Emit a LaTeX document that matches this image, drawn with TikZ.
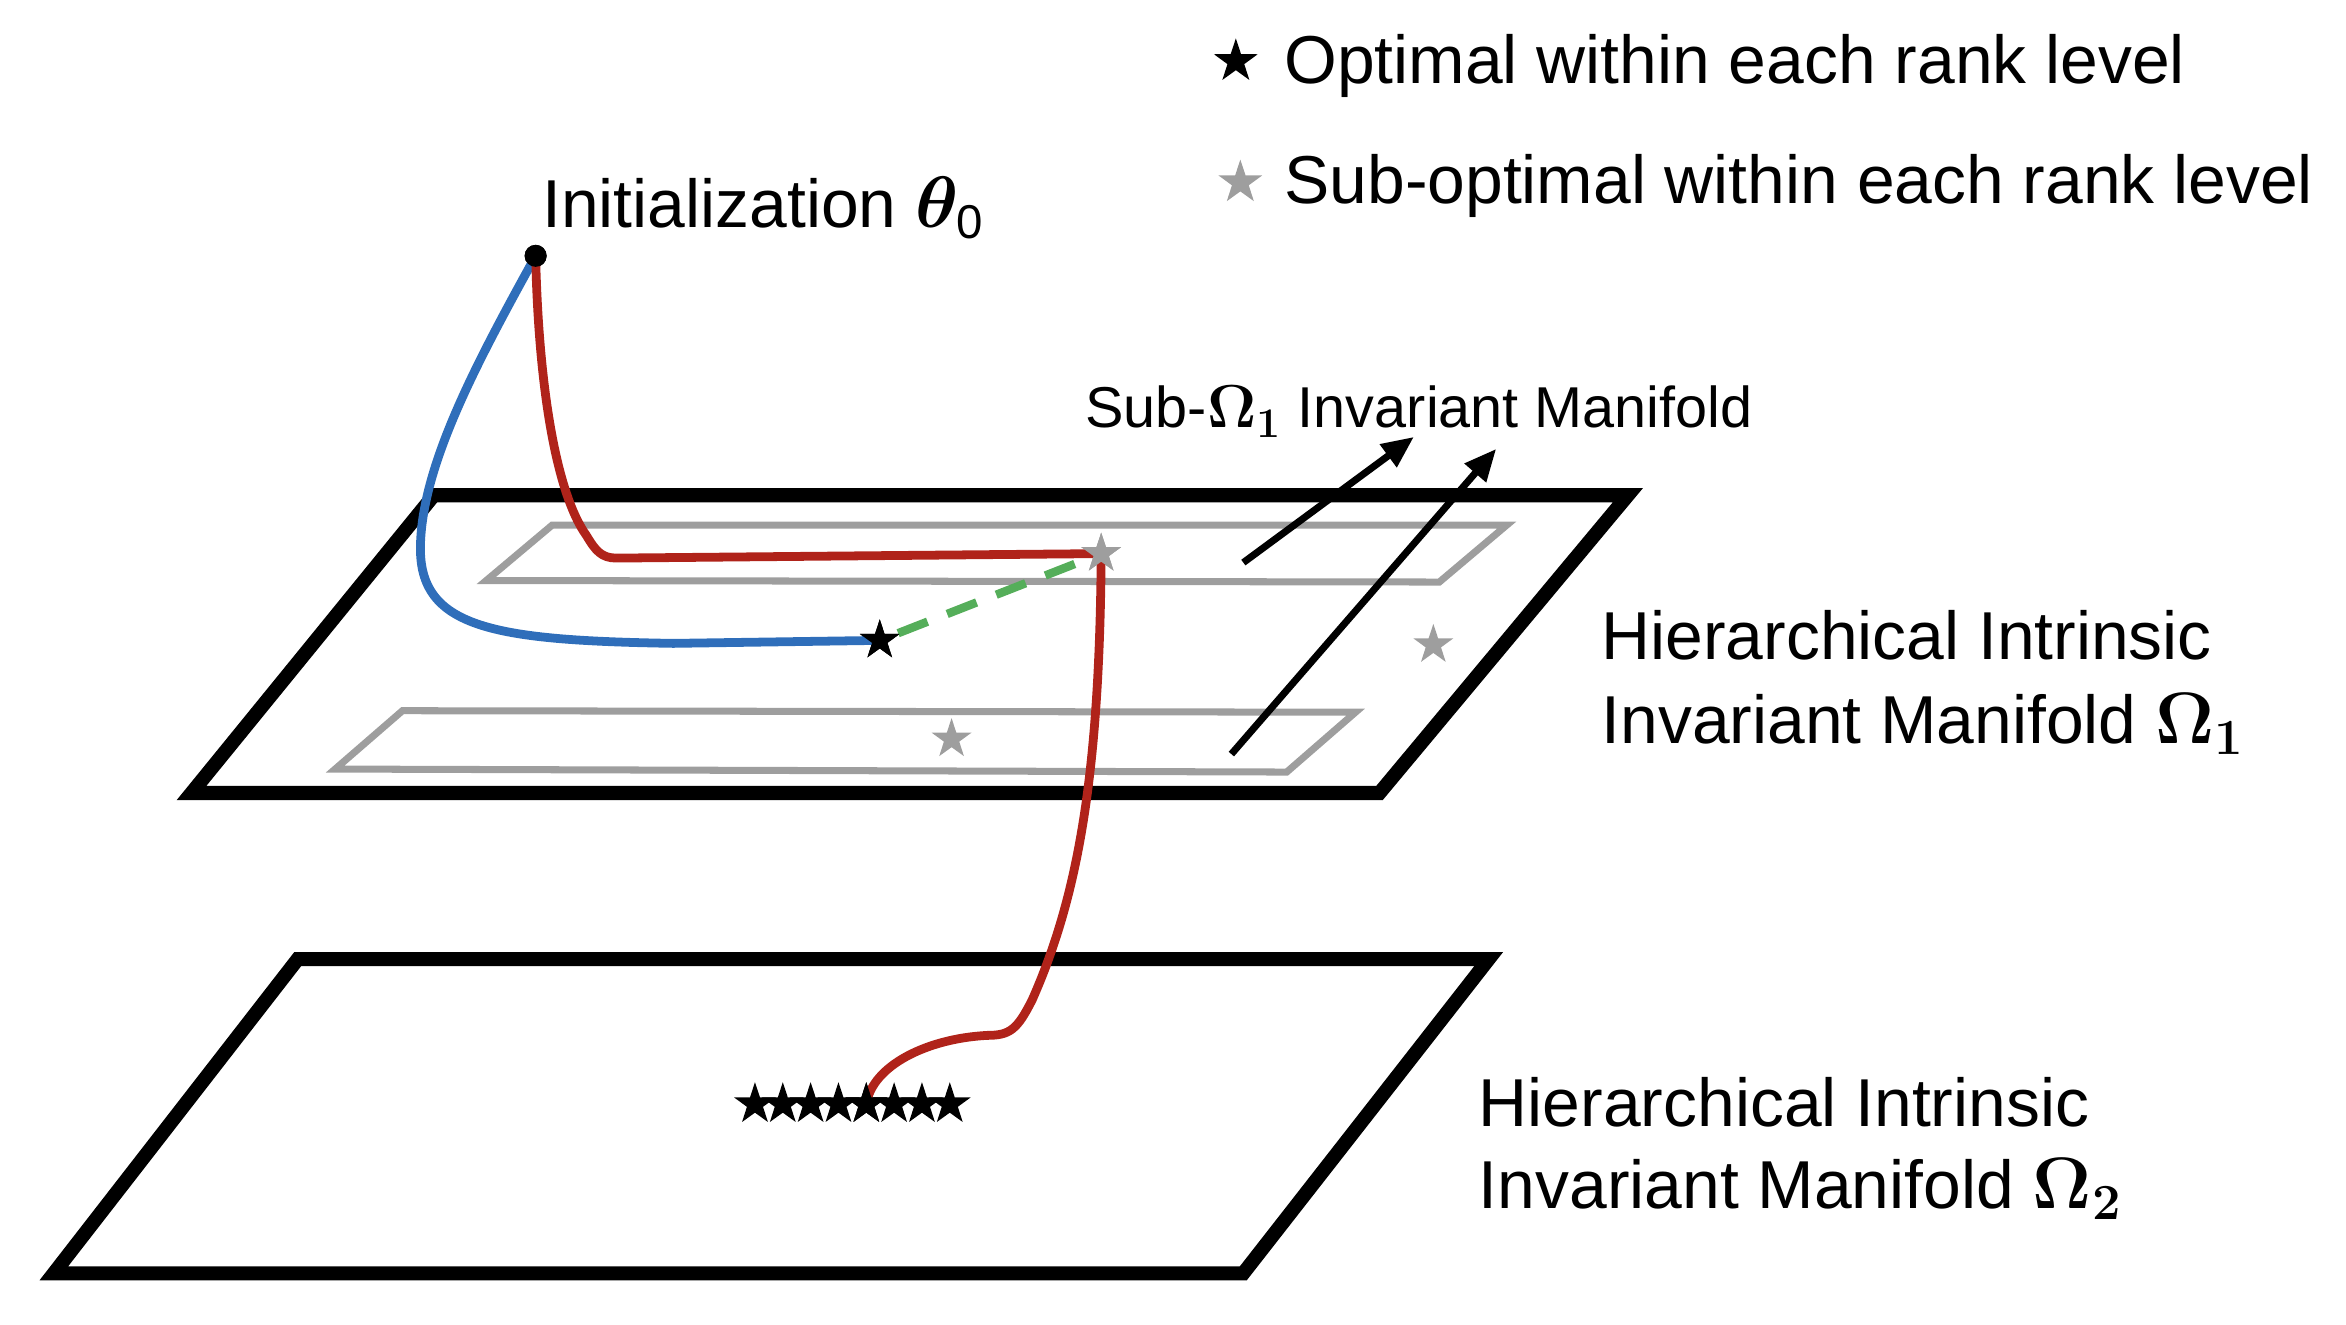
\documentclass[tikz,border=0pt]{standalone}
\usepackage{amsmath,bm}
\usepackage{fontspec}
\setmainfont{Liberation Sans}
\usetikzlibrary{shapes.geometric,arrows.meta}
\definecolor{myblue}{HTML}{2F6EBA}
\definecolor{myred}{HTML}{B0231A}
\definecolor{mygreen}{HTML}{55AE5A}
\definecolor{mygray}{HTML}{9E9E9E}
\begin{document}
\begin{tikzpicture}[x=0.014962cm,y=-0.014962cm,
  plane/.style={line width=4pt, line join=miter},
  subrect/.style={mygray, line width=2pt, line join=miter},
  traj/.style={line width=2.5pt, line cap=round, line join=round},
  mstar/.style={star, star points=5, star point ratio=2.6, inner sep=0pt, minimum size=0.44cm, fill, draw=none},
  lbl/.style={anchor=base west, inner sep=0pt, font=\fontsize{19.3}{23}\selectfont},
  ptr/.style={line width=2pt, -{Triangle[length=0.32cm,width=0.27cm]}}
]
\useasboundingbox (0,0) rectangle (1568,885);

% planes
\draw[plane] (290,331) -- (1088,331) -- (922,530) -- (128,530) -- cycle;
\draw[plane] (199,641) -- (995,641) -- (831,851) -- (36,851) -- cycle;
% sub manifolds
\draw[subrect] (369,351) -- (1007,351) -- (962,389) -- (325,388) -- cycle;
\draw[subrect] (269,475) -- (906,476) -- (860,516) -- (224,514) -- cycle;

% pointers
\coordinate (a1s) at (831,376); \coordinate (a1e) at (945,292);
\coordinate (a2s) at (823,504); \coordinate (a2e) at (1000,300);
\draw[ptr] (a1s) -- (a1e);
\draw[ptr] (a2s) -- (a2e);

% stars
\node[mstar, mygray, minimum size=0.42cm] (g1) at (736,370) {};
\node[mstar, mygray, minimum size=0.42cm] (g2) at (958,431) {};
\node[mstar, mygray, minimum size=0.42cm] (g3) at (636,494) {};
\node[mstar, black, minimum size=0.42cm] (b1) at (588,428) {};
\foreach \i in {1,...,8} {
  \node[mstar, black, minimum size=0.44cm] (s\i) at ({504.6+18.6*(\i-1)},738) {};
}

% init point
\node[circle, fill, inner sep=0pt, minimum size=0.22cm] (init) at (358,171) {};

% trajectories
\draw[mygreen, line width=2.4pt, dash pattern=on 9pt off 6pt] (b1) -- (g1);
\draw[traj, myblue] (init.center) .. controls (320,240) and (282,310) .. (281,365)
  .. controls (280,420) and (330,428) .. (450,430) -- (b1.center);
\draw[traj, myred] (init.center) .. controls (360,260) and (372,330) .. (392,358)
  .. controls (398,368) and (402,373) .. (412,373) -- (g1.center)
  .. controls (735,520) and (720,600) .. (690,668)
  .. controls (680,688) and (675,692) .. (660,692)
  .. controls (620,694) and (583,712) .. (s5.center);

% redraw stars on top
\node[mstar, mygray, minimum size=0.42cm] at (g1.center) {};
\node[mstar, black, minimum size=0.42cm] at (b1.center) {};
\node[mstar, black, minimum size=0.44cm] at (s5.center) {};
\node[circle, fill, inner sep=0pt, minimum size=0.22cm] at (init.center) {};

% legend
\node[mstar, black, minimum size=0.46cm] (lk1) at (826,41) {};
\node[lbl] (lt1) at (858,56) {Optimal within each rank level};
\node[mstar, mygray, minimum size=0.46cm] (lk2) at (829,122) {};
\node[lbl] (lt2) at (858,136) {Sub-optimal within each rank level};

% labels
\node[lbl] (initlbl) at (362,152) {Initialization $\bm{\theta}_{\text{0}}$};
\node[lbl, font=\fontsize{16.4}{20}\selectfont] (sublbl) at (725,286) {Sub-$\bm{\Omega_1}$ Invariant Manifold};
\node[lbl] (h1a) at (1070,441) {Hierarchical Intrinsic};
\node[lbl] (h1b) at (1070,497) {Invariant Manifold $\bm{\Omega_1}$};
\node[lbl] (h2a) at (988,753) {Hierarchical Intrinsic};
\node[lbl] (h2b) at (988,808) {Invariant Manifold $\bm{\Omega_2}$};
\end{tikzpicture}
\end{document}
